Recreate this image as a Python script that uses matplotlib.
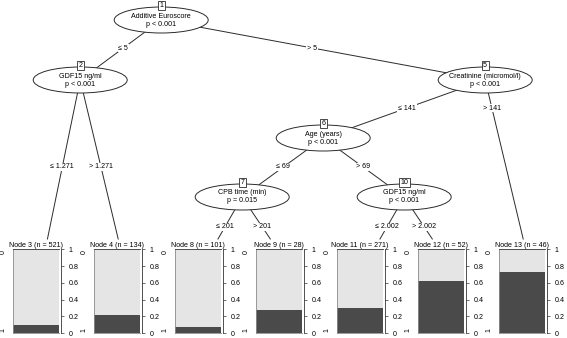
import matplotlib
matplotlib.use("Agg")
import matplotlib.pyplot as plt
from matplotlib.patches import Ellipse

plt.rcParams["font.family"] = ["Liberation Sans", "DejaVu Sans"]

# Data: inner nodes of the tree
inner_ids = [1, 2, 5, 6, 7, 10]
inner_vars = ["Additive Euroscore", "GDF15 ng/ml", "Creatinine (micromol/l)",
              "Age (years)", "CPB time (min)", "GDF15 ng/ml"]
inner_p = ["p < 0.001", "p < 0.001", "p < 0.001", "p < 0.001",
           "p = 0.015", "p < 0.001"]
inner_kids = [(2, 5), (3, 4), (6, 13), (7, 10), (8, 9), (11, 12)]
split_left = ["\u2264 5", "\u2264 1.271", "\u2264 141", "\u2264 69",
              "\u2264 201", "\u2264 2.002"]
split_right = ["> 5", "> 1.271", "> 141", "> 69", "> 201", "> 2.002"]

# Data: terminal nodes
leaf_ids = [3, 4, 8, 9, 11, 12, 13]
leaf_n = [521, 134, 101, 28, 271, 52, 46]
leaf_p1 = [0.10, 0.22, 0.07, 0.28, 0.295, 0.62, 0.725]

# Layout (pixels)
W, H = 567, 338
level_y = [20, 80, 138, 197]
label_y = {1: 48, 2: 167, 5: 108, 6: 167, 7: 227, 10: 227}
bar_x0, bar_step, bar_w = 12.7, 81.0, 46.5
bar_top, bar_bot = 249.3, 333.0
light, dark = "#e5e5e5", "#4a4a4a"
fs = 5.1

kids = dict(zip(inner_ids, inner_kids))
info = {i: (v, p) for i, v, p in zip(inner_ids, inner_vars, inner_p)}
labels = {i: (l, r) for i, l, r in zip(inner_ids, split_left, split_right)}

leaf_x = {lid: bar_x0 + bar_step * k + 27 for k, lid in enumerate(leaf_ids)}


def leaves_of(node):
    if node not in kids:
        return [node]
    return leaves_of(kids[node][0]) + leaves_of(kids[node][1])


pos = {}


def place(node, depth):
    if node not in kids:
        return
    left_leaves = leaves_of(kids[node][0])
    right_leaves = leaves_of(kids[node][1])
    x = (leaf_x[left_leaves[-1]] + leaf_x[right_leaves[0]]) / 2
    pos[node] = (x, level_y[depth])
    place(kids[node][0], depth + 1)
    place(kids[node][1], depth + 1)


place(1, 0)

fig = plt.figure(figsize=(W / 100, H / 100), dpi=100)
ax = fig.add_axes([0, 0, 1, 1])
ax.set_xlim(0, W)
ax.set_ylim(H, 0)
ax.axis("off")

# edges and edge labels
for node in inner_ids:
    px, py = pos[node]
    for child, lab in zip(kids[node], labels[node]):
        if child in pos:
            tx, ty = pos[child]
            ex, ey = tx, ty
        else:
            tx, ty = leaf_x[child] + 3, 262
            ey = 239
            ex = px + (tx - px) * (ey - py) / (ty - py)
        ax.plot([px, ex], [py, ey], color="#2b2b2b", lw=0.7, zorder=1)
        ly = label_y[node]
        lx = px + (tx - px) * (ly - py) / (ty - py)
        ax.text(lx, ly, lab, fontsize=fs, ha="center", va="center", zorder=2,
                bbox=dict(fc="white", ec="none", pad=0.6))

# inner nodes
for node in inner_ids:
    x, y = pos[node]
    ax.add_patch(Ellipse((x, y), 94, 26, fc="white", ec="#2b2b2b", lw=0.7,
                         zorder=3))
    var, p = info[node]
    ax.text(x, y - 4, var, fontsize=fs, ha="center", va="center", zorder=4)
    ax.text(x, y + 4, p, fontsize=fs, ha="center", va="center", zorder=4)
    ax.text(x, y - 14.5, str(node), fontsize=fs, ha="center", va="center",
            zorder=5, bbox=dict(boxstyle="square,pad=0.2", fc="white",
                                ec="#2b2b2b", lw=0.6))

# terminal nodes
for k, (lid, n, p1) in enumerate(zip(leaf_ids, leaf_n, leaf_p1)):
    x0 = bar_x0 + bar_step * k
    bx = fig.add_axes([x0 / W, 1 - bar_bot / H, bar_w / W,
                       (bar_bot - bar_top) / H])
    bx.bar([0], [p1], width=1, color=dark, linewidth=0)
    bx.bar([0], [1 - p1], bottom=[p1], width=1, color=light, linewidth=0)
    bx.set_xlim(-0.5, 0.5)
    bx.set_ylim(0, 1)
    bx.set_xticks([])
    bx.yaxis.tick_right()
    bx.set_yticks([0, 0.2, 0.4, 0.6, 0.8, 1])
    bx.set_yticklabels(["0", "0.2", "0.4", "0.6", "0.8", "1"])
    bx.tick_params(axis="y", length=2.4, width=0.5, pad=3, labelsize=fs,
                   color="#333333")
    for side in ["left", "top", "bottom"]:
        bx.spines[side].set_color("#8c8c8c")
        bx.spines[side].set_linewidth(0.6)
    bx.spines["top"].set_color("#333333")
    bx.spines["right"].set_color("#333333")
    bx.spines["right"].set_linewidth(0.6)
    bx.spines["right"].set_position(("outward", 1.2))
    bx.set_title("Node %d (n = %d)" % (lid, n), fontsize=fs, pad=1.5)
    bx.text(-0.21, 0.99, "0", transform=bx.transAxes, fontsize=fs,
            rotation=90, ha="center", va="top")
    bx.text(-0.21, 0.01, "1", transform=bx.transAxes, fontsize=fs,
            rotation=90, ha="center", va="bottom")

fig.savefig("out.png", dpi=100)
